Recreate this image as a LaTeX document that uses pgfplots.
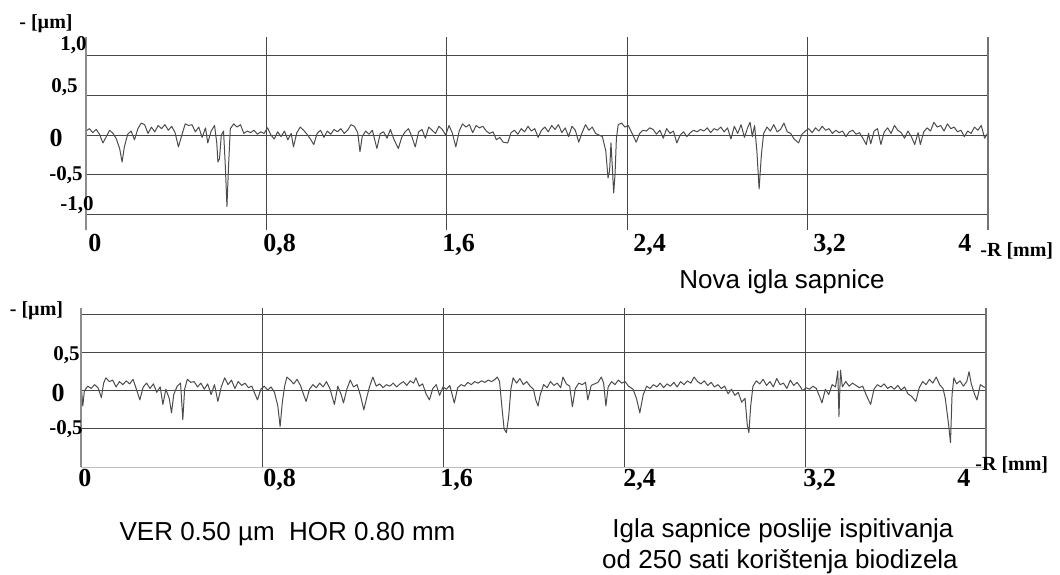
\documentclass[border=0pt]{standalone}
\usepackage{pgfplots}
\usepackage{pgfplotstable}
\pgfplotsset{compat=1.18}
\usepackage{fontspec}
\setmainfont{Liberation Serif}
\newfontfamily\arial{Liberation Sans}

\pgfplotstableread{
x y
0.000 0.05
0.015 0.08
0.030 0.03
0.045 0.07
0.060 0.01
0.075 -0.10
0.090 -0.02
0.105 0.06
0.120 0.02
0.135 -0.05
0.150 -0.18
0.160 -0.34
0.170 -0.15
0.185 0.01
0.200 0.05
0.215 -0.06
0.230 0.08
0.245 0.15
0.260 0.13
0.275 0.02
0.290 0.10
0.305 0.04
0.320 0.12
0.335 0.08
0.350 0.13
0.365 0.06
0.380 0.11
0.395 0.03
0.410 -0.15
0.425 0.00
0.440 0.14
0.455 0.12
0.470 0.13
0.485 0.04
0.500 0.10
0.515 -0.03
0.530 0.09
0.540 -0.10
0.555 0.05
0.570 0.12
0.580 -0.10
0.585 -0.34
0.592 -0.30
0.600 0.00
0.610 0.05
0.618 -0.40
0.625 -0.90
0.632 -0.40
0.640 0.08
0.655 0.14
0.670 0.10
0.685 0.13
0.700 0.02
0.715 0.05
0.730 0.03
0.745 0.06
0.760 0.01
0.775 0.04
0.790 0.02
0.805 0.09
0.820 0.00
0.835 -0.05
0.850 0.04
0.865 -0.02
0.880 0.05
0.895 -0.06
0.910 0.02
0.920 -0.15
0.935 0.03
0.950 0.10
0.965 0.06
0.980 0.01
0.995 -0.05
1.010 -0.12
1.025 0.02
1.040 0.06
1.055 -0.03
1.070 0.05
1.085 0.01
1.100 0.07
1.115 0.04
1.130 0.08
1.145 0.02
1.160 0.06
1.175 0.13
1.190 0.11
1.205 0.03
1.215 -0.21
1.225 -0.02
1.240 0.05
1.255 0.01
1.270 0.06
1.290 -0.17
1.305 0.02
1.320 0.04
1.335 -0.04
1.350 0.07
1.365 -0.05
1.385 -0.17
1.400 -0.03
1.415 0.04
1.430 0.08
1.445 -0.02
1.460 -0.15
1.475 0.04
1.490 0.07
1.505 -0.04
1.520 0.10
1.535 0.06
1.550 0.02
1.565 0.11
1.580 0.07
1.595 0.00
1.610 0.12
1.625 0.02
1.640 -0.15
1.655 0.05
1.670 0.14
1.685 0.10
1.700 0.13
1.715 0.03
1.730 0.12
1.745 0.09
1.760 0.11
1.775 0.05
1.790 0.02
1.805 0.04
1.820 -0.06
1.835 -0.03
1.850 -0.09
1.870 -0.10
1.885 0.03
1.900 0.06
1.915 0.01
1.930 0.08
1.945 0.04
1.960 0.11
1.975 0.05
1.990 0.08
2.005 -0.03
2.020 0.06
2.035 0.10
2.050 0.04
2.065 0.12
2.080 0.07
2.095 0.13
2.110 0.03
2.125 0.09
2.140 -0.02
2.155 0.11
2.170 0.06
2.185 -0.09
2.200 0.03
2.215 0.13
2.230 0.06
2.245 0.10
2.260 0.02
2.275 0.00
2.290 -0.02
2.305 -0.20
2.315 -0.54
2.322 -0.45
2.328 -0.10
2.334 -0.40
2.340 -0.73
2.346 -0.50
2.352 -0.05
2.360 0.13
2.375 0.15
2.390 0.10
2.405 0.12
2.420 0.03
2.440 -0.09
2.455 0.02
2.470 0.06
2.485 0.05
2.500 0.09
2.515 0.07
2.530 0.01
2.545 0.06
2.560 -0.04
2.575 0.08
2.590 0.02
2.605 0.05
2.620 -0.10
2.635 0.00
2.650 0.04
2.665 -0.02
2.680 0.03
2.695 0.06
2.710 0.04
2.725 0.07
2.740 0.05
2.755 0.09
2.770 0.03
2.785 0.08
2.800 0.06
2.815 0.10
2.830 0.04
2.845 0.09
2.860 -0.05
2.875 0.11
2.890 0.02
2.905 0.13
2.920 -0.03
2.935 0.10
2.945 0.16
2.955 -0.02
2.965 0.12
2.975 -0.20
2.985 -0.68
2.995 -0.25
3.005 0.02
3.020 0.10
3.035 0.05
3.050 0.13
3.065 0.04
3.080 0.07
3.095 0.15
3.110 0.04
3.125 0.02
3.140 -0.05
3.160 -0.10
3.175 0.01
3.190 0.05
3.205 0.08
3.220 0.03
3.235 0.09
3.250 0.05
3.265 0.11
3.280 0.06
3.295 0.08
3.310 0.02
3.325 0.06
3.340 0.03
3.355 0.05
3.370 -0.02
3.385 0.04
3.400 0.06
3.415 0.01
3.430 0.03
3.445 -0.04
3.460 -0.12
3.470 0.02
3.480 -0.11
3.495 0.05
3.510 0.08
3.525 -0.12
3.540 0.04
3.555 0.09
3.570 0.02
3.585 0.12
3.600 0.06
3.615 0.03
3.630 -0.04
3.645 0.05
3.660 -0.02
3.675 -0.12
3.690 0.03
3.700 -0.12
3.715 0.04
3.730 0.09
3.745 0.05
3.760 0.16
3.775 0.10
3.790 0.12
3.805 0.05
3.820 0.14
3.835 0.08
3.850 0.10
3.865 0.04
3.880 0.06
3.895 -0.02
3.910 0.05
3.925 0.02
3.940 0.10
3.955 0.06
3.970 0.12
3.985 -0.04
4.000 0.03
}\toptable

\pgfplotstableread{
x y
0.000 0.10
0.008 -0.20
0.015 0.00
0.030 0.06
0.045 0.03
0.060 0.08
0.075 0.04
0.090 -0.09
0.100 0.10
0.110 0.17
0.125 0.12
0.140 0.14
0.155 0.05
0.170 0.12
0.185 0.08
0.200 0.13
0.215 0.09
0.230 0.15
0.245 0.02
0.260 -0.12
0.275 0.05
0.290 0.10
0.305 0.03
0.320 0.09
0.335 -0.02
0.350 0.05
0.362 -0.18
0.375 0.02
0.390 -0.10
0.400 -0.29
0.410 -0.05
0.425 0.06
0.440 0.10
0.450 -0.38
0.458 0.02
0.470 0.15
0.485 0.11
0.500 0.12
0.515 0.05
0.530 0.10
0.545 0.02
0.560 0.09
0.575 -0.05
0.590 0.08
0.605 -0.14
0.620 0.05
0.635 0.17
0.650 0.08
0.665 0.14
0.680 0.03
0.695 0.12
0.710 0.07
0.725 0.10
0.740 0.04
0.755 0.06
0.770 -0.05
0.780 -0.12
0.795 0.02
0.810 0.06
0.825 0.01
0.840 0.05
0.855 -0.02
0.870 -0.20
0.880 -0.47
0.890 -0.15
0.900 0.06
0.910 0.18
0.925 0.14
0.940 0.09
0.955 0.15
0.970 0.07
0.985 -0.06
0.995 -0.14
1.010 0.02
1.025 0.08
1.040 0.04
1.055 0.10
1.070 0.05
1.085 0.12
1.100 0.03
1.120 -0.18
1.135 0.06
1.150 -0.05
1.160 -0.16
1.175 0.02
1.190 0.14
1.205 0.05
1.220 0.08
1.235 -0.06
1.250 -0.25
1.262 -0.10
1.275 0.05
1.290 0.18
1.305 0.06
1.320 0.09
1.335 0.04
1.350 0.08
1.365 0.06
1.380 0.10
1.395 0.05
1.410 0.09
1.425 0.12
1.440 0.07
1.455 0.13
1.470 0.10
1.480 0.17
1.495 0.06
1.510 0.09
1.525 -0.04
1.540 -0.12
1.555 0.03
1.570 0.08
1.585 -0.06
1.600 0.05
1.615 0.02
1.630 0.07
1.650 -0.16
1.665 0.04
1.680 0.08
1.695 0.06
1.710 0.11
1.725 0.08
1.740 0.12
1.755 0.10
1.770 0.13
1.785 0.11
1.800 0.14
1.815 0.12
1.830 0.15
1.840 0.18
1.850 0.12
1.860 -0.20
1.870 -0.50
1.880 -0.55
1.890 -0.35
1.900 0.02
1.910 0.17
1.925 0.10
1.940 0.16
1.955 0.08
1.970 0.12
1.985 0.06
2.000 0.02
2.010 -0.12
2.020 -0.20
2.030 -0.05
2.045 0.08
2.060 0.04
2.075 0.12
2.090 0.07
2.105 0.10
2.120 0.04
2.130 0.18
2.145 0.09
2.160 0.06
2.172 -0.21
2.185 0.03
2.200 0.10
2.215 0.08
2.230 0.11
2.240 -0.12
2.255 0.07
2.270 0.09
2.285 0.11
2.300 0.18
2.310 0.10
2.320 -0.20
2.330 0.05
2.345 0.12
2.360 0.08
2.375 0.14
2.390 0.10
2.405 0.12
2.420 0.06
2.440 0.02
2.455 -0.10
2.470 -0.29
2.485 -0.05
2.500 0.06
2.515 0.03
2.530 0.08
2.545 0.05
2.560 0.10
2.575 0.04
2.590 0.09
2.605 0.06
2.620 0.11
2.635 0.05
2.650 0.12
2.665 0.08
2.680 0.13
2.695 0.10
2.710 0.18
2.725 0.12
2.740 0.09
2.755 0.13
2.770 0.07
2.785 0.11
2.800 0.05
2.815 0.08
2.830 0.03
2.845 0.06
2.860 -0.04
2.875 0.02
2.890 -0.06
2.905 -0.02
2.920 -0.15
2.935 -0.10
2.945 -0.45
2.952 -0.55
2.960 -0.20
2.970 0.06
2.985 0.13
3.000 0.09
3.015 0.15
3.030 0.07
3.045 0.12
3.060 0.05
3.075 0.16
3.090 0.08
3.105 0.10
3.120 0.03
3.135 0.14
3.150 0.07
3.165 0.11
3.180 0.05
3.190 0.00
3.205 0.04
3.220 0.02
3.235 0.06
3.250 0.03
3.265 -0.08
3.275 -0.16
3.290 0.02
3.305 -0.05
3.320 0.08
3.335 0.05
3.345 0.26
3.350 -0.34
3.357 0.27
3.365 0.05
3.380 0.12
3.395 0.06
3.410 0.10
3.425 0.07
3.440 0.04
3.455 0.06
3.470 -0.05
3.490 -0.18
3.505 0.02
3.520 0.08
3.535 0.05
3.550 0.09
3.565 0.03
3.580 0.06
3.595 0.02
3.610 0.07
3.625 0.01
3.640 0.05
3.655 -0.04
3.670 -0.07
3.690 -0.14
3.705 0.04
3.720 0.12
3.735 0.08
3.750 0.15
3.765 0.10
3.780 0.18
3.795 0.08
3.810 0.03
3.820 -0.10
3.835 -0.45
3.843 -0.68
3.850 -0.05
3.858 0.17
3.870 0.09
3.885 0.13
3.900 0.06
3.915 0.12
3.925 0.25
3.935 0.09
3.950 -0.05
3.960 -0.12
3.975 0.08
3.990 0.05
4.000 0.04
}\bottable

\pgfplotsset{
  profile/.style={
    scale only axis,
    xmin=0, xmax=4,
    xtick={0,0.8,1.6,2.4,3.2,4},
    xticklabels={}, yticklabels={},
    grid=major,
    major grid style={draw=black!72, line width=0.45pt},
    axis line style={draw=none},
    major tick length=0pt,
    clip=false,
  },
  trace/.style={black!70, line width=0.5pt, line join=round},
}

\newcommand{\tl}{\bfseries\fontsize{13}{13}\selectfont}
\newcommand{\ts}{\bfseries\fontsize{10.5}{10.5}\selectfont}
\newcommand{\tu}{\bfseries\fontsize{10}{10}\selectfont}
\newcommand{\capfont}{\arial\fontsize{13}{13}\selectfont}

\begin{document}
\begin{tikzpicture}
\useasboundingbox (0,0) rectangle (530pt,-287pt);

% ---------- top profile ----------
\begin{axis}[profile,
  at={(43pt,-115pt)}, anchor=south west,
  width=451pt, height=96.5pt,
  ytick={-1,-0.5,0,0.5,1},
  ymin=-1.195, ymax=1.233]
  \addplot[trace] table[x=x,y=y] {\toptable};
  \draw[black!45, line width=0.9pt] (rel axis cs:0,0) -- (rel axis cs:0,1);
  \draw[black!55, line width=0.9pt] (rel axis cs:1,0) -- (rel axis cs:1,1);
\end{axis}

% ---------- bottom profile ----------
\begin{axis}[profile,
  at={(40.5pt,-233.5pt)}, anchor=south west,
  width=452.5pt, height=79.5pt,
  ytick={-0.5,0,0.5,1},
  ymin=-1.0, ymax=1.085]
  \addplot[trace] table[x=x,y=y] {\bottable};
  \draw[black!25, line width=0.45pt] (axis cs:0,-1) -- (axis cs:4,-1);
  \draw[black!45, line width=0.9pt] (rel axis cs:0,0) -- (rel axis cs:0,1);
  \draw[black!55, line width=0.9pt] (rel axis cs:1,0) -- (rel axis cs:1,1);
\end{axis}

% ---------- labels, top ----------
\begin{scope}[every node/.style={inner sep=0pt}]
\node[anchor=base] at (23pt,-14pt) {\tu - [µm]};
\node[anchor=base east] at (43.5pt,-25pt) {\ts 1,0};
\node[anchor=base east] at (39pt,-46pt) {\ts 0,5};
\node[anchor=base east] at (31.5pt,-73pt) {\tl 0};
\node[anchor=base east] at (41.5pt,-90pt) {\ts -0,5};
\node[anchor=base east] at (47pt,-105pt) {\ts -1,0};

\node[anchor=base west] at (44pt,-125.5pt) {\tl 0};
\node[anchor=base west] at (131.5pt,-125.5pt) {\tl 0,8};
\node[anchor=base west] at (221pt,-125.5pt) {\tl 1,6};
\node[anchor=base west] at (316.5pt,-125.5pt) {\tl 2,4};
\node[anchor=base west] at (406.5pt,-125.5pt) {\tl 3,2};
\node[anchor=base west] at (479pt,-125.5pt) {\tl 4};
\node[anchor=base west] at (490pt,-128pt) {\tu -R [mm]};

\node[anchor=base] at (391pt,-144pt) {\capfont Nova igla sapnice};

% ---------- labels, bottom ----------
\node[anchor=base] at (18.25pt,-157.5pt) {\tu - [µm]};
\node[anchor=base east] at (40pt,-180pt) {\ts 0,5};
\node[anchor=base east] at (32.5pt,-200.5pt) {\tl 0};
\node[anchor=base east] at (41.5pt,-217pt) {\ts -0,5};

\node[anchor=base west] at (39pt,-243pt) {\tl 0};
\node[anchor=base west] at (131.5pt,-243pt) {\tl 0,8};
\node[anchor=base west] at (220pt,-243pt) {\tl 1,6};
\node[anchor=base west] at (311.5pt,-243pt) {\tl 2,4};
\node[anchor=base west] at (401.5pt,-243pt) {\tl 3,2};
\node[anchor=base west] at (478.5pt,-243pt) {\tl 4};
\node[anchor=base west] at (487.5pt,-235pt) {\tu -R [mm]};

\node[anchor=base] at (143.75pt,-270pt) {\capfont VER 0.50 µm\ \ HOR 0.80 mm};
\node[anchor=base] at (391.5pt,-268.5pt) {\capfont Igla sapnice poslije ispitivanja};
\node[anchor=base] at (390pt,-284pt) {\capfont od 250 sati korištenja biodizela};
\end{scope}
\end{tikzpicture}
\end{document}
